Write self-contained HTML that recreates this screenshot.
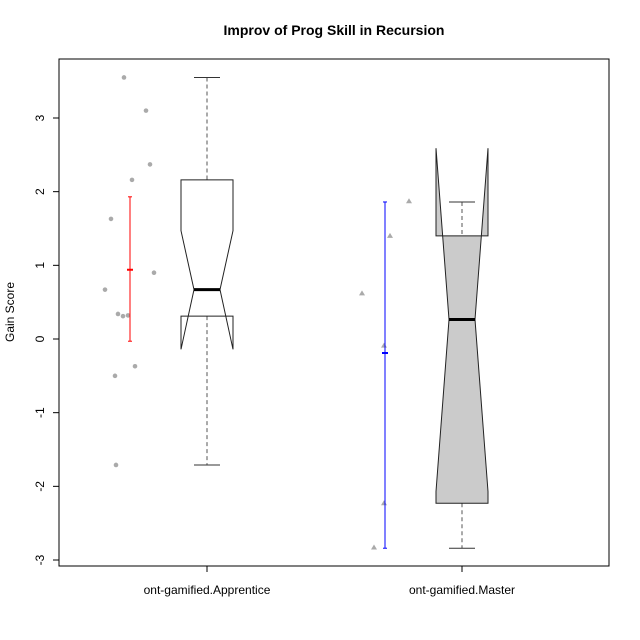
<!DOCTYPE html>
<html><head><meta charset="utf-8"><style>
body{margin:0;background:#fff}
svg{display:block;font-family:"Liberation Sans",Arial,sans-serif}
</style></head><body>
<svg id="chart" width="640" height="640"></svg>
<script>
const categories=["ont-gamified.Apprentice","ont-gamified.Master"];
const boxStats=[
 {wlo:-1.71,q1:0.31,med:0.67,q3:2.16,whi:3.55,nlo:-0.14,nhi:1.47},
 {wlo:-2.84,q1:-2.23,med:0.265,q3:1.40,whi:1.86,nlo:-2.07,nhi:2.59}
];
const pointsA=[3.55,3.10,2.37,2.16,1.63,0.90,0.67,0.34,0.31,0.32,-0.37,-0.50,-1.71];
const jitterA=[-83,-61,-57,-75,-96,-53,-102,-89,-84,-79,-72,-92,-91];
const pointsB=[1.87,1.40,0.62,-0.09,-2.23,-2.83];
const jitterB=[-53,-72,-100,-78,-78,-88];
const means=[0.94,-0.19];
const errLo=[-0.03,-2.84];
const errHi=[1.93,1.86];
const yTicks=[-3,-2,-1,0,1,2,3];
const NS="http://www.w3.org/2000/svg";
const svg=document.getElementById('chart');
function y(v){return 339-73.67*v;}
const xc=[207,462];
function mk(tag,attrs,name,text){const e=document.createElementNS(NS,tag);for(const k in attrs)e.setAttribute(k,attrs[k]);


if(text!==undefined)e.textContent=text;svg.appendChild(e);return e;}
mk('text',{x:334,y:35,'text-anchor':'middle','font-size':14,'font-weight':'bold'},'chart-title','Improv of Prog Skill in Recursion');
mk('rect',{x:59,y:59,width:550,height:507,fill:'none',stroke:'#000'},'plot-frame');
yTicks.forEach(t=>{mk('line',{x1:53,x2:59,y1:y(t),y2:y(t),stroke:'#000'},'y-tick');
 mk('text',{x:44,y:y(t),'text-anchor':'middle','font-size':12,transform:`rotate(-90 44 ${y(t)})`},'y-tick-label',t);});
mk('text',{x:14,y:312,'text-anchor':'middle','font-size':12,transform:'rotate(-90 14 312)'},'y-axis-title','Gain Score');
categories.forEach((c,i)=>{mk('line',{x1:xc[i],x2:xc[i],y1:566,y2:572,stroke:'#000'},'x-tick');
 mk('text',{x:xc[i],y:594,'text-anchor':'middle','font-size':12},'x-tick-label',c);});
const fills=['#fff','#cbcbcb'];
boxStats.forEach((b,i)=>{const c=xc[i],hw=26,nw=13;
 mk('line',{x1:c,x2:c,y1:y(b.whi),y2:y(b.q3),stroke:'#555','stroke-dasharray':'4,3'},'whisker-upper');
 mk('line',{x1:c,x2:c,y1:y(b.q1),y2:y(b.wlo),stroke:'#555','stroke-dasharray':'4,3'},'whisker-lower');
 mk('line',{x1:c-13,x2:c+13,y1:y(b.whi),y2:y(b.whi),stroke:'#333'},'whisker-cap');
 mk('line',{x1:c-13,x2:c+13,y1:y(b.wlo),y2:y(b.wlo),stroke:'#333'},'whisker-cap');
 const p=[[c-hw,y(b.q3)],[c+hw,y(b.q3)],[c+hw,y(b.nhi)],[c+nw,y(b.med)],[c+hw,y(b.nlo)],[c+hw,y(b.q1)],[c-hw,y(b.q1)],[c-hw,y(b.nlo)],[c-nw,y(b.med)],[c-hw,y(b.nhi)]];
 mk('polygon',{points:p.map(q=>q.join(',')).join(' '),fill:fills[i],stroke:'#222'},'box-'+i);
 mk('line',{x1:c-nw,x2:c+nw,y1:y(b.med),y2:y(b.med),stroke:'#000','stroke-width':3},'median-line');
});
pointsA.forEach((v,j)=>mk('circle',{cx:xc[0]+jitterA[j],cy:y(v),r:2.3,fill:'#aaa'},'point-apprentice'));
pointsB.forEach((v,j)=>{const cx=xc[1]+jitterB[j],cy=y(v);mk('polygon',{points:`${cx-3},${cy+2} ${cx+3},${cy+2} ${cx},${cy-3}`,fill:'#aaa'},'point-master');});
const ex=[130,385],ecol=['#f00','#00f'];
means.forEach((m,i)=>{const x=ex[i];
 mk('line',{x1:x,x2:x,y1:y(errHi[i]),y2:y(errLo[i]),stroke:ecol[i]},'error-bar');
 mk('line',{x1:x-2,x2:x+2,y1:y(errHi[i]),y2:y(errHi[i]),stroke:ecol[i]},'error-cap');
 mk('line',{x1:x-2,x2:x+2,y1:y(errLo[i]),y2:y(errLo[i]),stroke:ecol[i]},'error-cap');
 mk('line',{x1:x-3,x2:x+3,y1:y(m),y2:y(m),stroke:ecol[i],'stroke-width':2},'mean-mark');});
</script>
</body></html>
